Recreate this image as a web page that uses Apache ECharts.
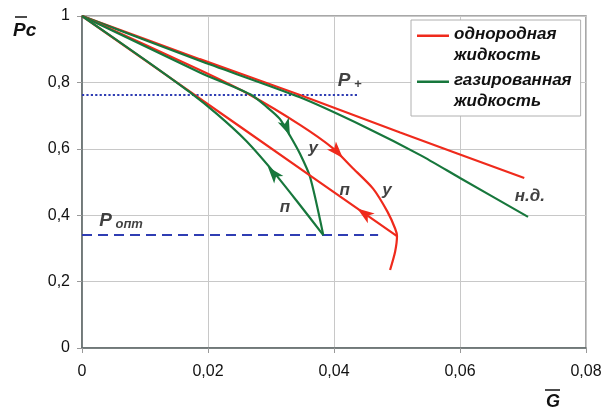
<!DOCTYPE html>
<html><head><meta charset="utf-8">
<script src="https://cdn.jsdelivr.net/npm/echarts@6/dist/echarts.min.js"></script>
<style>html,body{margin:0;padding:0;background:#fff}#c{width:612px;height:412px}</style>
</head><body><div id="c"></div>
<script>
// ---- data ----
const xTickLabels = ['0', '0,02', '0,04', '0,06', '0,08'];
const yTickLabels = ['0', '0,2', '0,4', '0,6', '0,8', '1'];
const redName = 'однородная\nжидкость';
const greenName = 'газированная\nжидкость';
// н.д. curves
const redND = [[0,1],[0.0187,0.870],[0.0346,0.762],[0.0505,0.649],[0.0702,0.512]];
const greenND = [[0,1],[0.0187,0.865],[0.0346,0.755],[0.0450,0.665],[0.0537,0.581],[0.0600,0.512],[0.0708,0.395]];
// у curves
const redU = [[0,1],[0.0187,0.837],[0.0267,0.762],[0.0346,0.672],[0.0398,0.602],[0.0428,0.545],[0.0462,0.480],[0.0485,0.410],[0.0497,0.360],[0.0500,0.337],[0.0497,0.290],[0.0489,0.235]];
const greenU = [[0,1],[0.0187,0.830],[0.0267,0.764],[0.0294,0.725],[0.0314,0.690],[0.0330,0.640],[0.0346,0.585],[0.0362,0.515],[0.0383,0.340]];
// п curves
const redP = [[0,1],[0.0250,0.668],[0.0500,0.337]];
const greenP = [[0,1],[0.0100,0.868],[0.0170,0.772],[0.0214,0.705],[0.0260,0.625],[0.0302,0.535],[0.0340,0.445],[0.0383,0.340]];
// reference levels
const pPlus = [[0,0.762],[0.0438,0.762]];
const pOpt = [[0,0.340],[0.0470,0.340]];
// arrow heads on the curves: tip position and direction (deg, counter-clockwise from up)
const redArrows = [[0.0414,0.572],[0.0437,0.420]];
const redArrowDir = [-138, 55];
const greenArrows = [[0.0330,0.640],[0.0295,0.546]];
const greenArrowDir = [-157, 40];
// text annotations
const notes = [
  {name:'pplus', value:[0.0425,0.806]},
  {name:'popt', value:[0.0062,0.384]},
  {name:'н.д.', value:[0.0711,0.458]},
  {name:'у', value:[0.0367,0.602]},
  {name:'у', value:[0.0484,0.476]},
  {name:'п', value:[0.0417,0.476]},
  {name:'п', value:[0.0322,0.425]}
];

const RED = '#ef2a1c', GREEN = '#17773c', BLUE = '#2f3db3';
const FONT = '"Liberation Sans", Arial, sans-serif';
const chart = echarts.init(document.getElementById('c'), null, {renderer:'canvas'});
function lineSeries(name, data, color) {
  return {name, type:'line', data, color, smooth:0.25, showSymbol:false, symbol:'none',
    lineStyle:{color, width:2.2}, z:3, animation:false, silent:true};
}
function arrowSeries(name, pts, dirs, color) {
  return {name, type:'scatter', symbol:'arrow', symbolSize:[9,17], color, z:4,
    data: pts.map((p,i)=>({value:p, symbolRotate:dirs[i]})),
    itemStyle:{color, opacity:1}, animation:false, silent:true};
}
const option = {
  animation:false,
  grid:{left:82, right:26, top:16, bottom:64, show:true, borderColor:'#8c8c8c', borderWidth:1.5},
  legend:{
    left:411, top:20, orient:'vertical', padding:[4,9,4,6], itemGap:4,
    backgroundColor:'#fff', borderColor:'#b0b0b0', borderWidth:1,
    icon:'path://M0,0H32V2.4H0ZM0,21H0.01V21.01H0Z', itemWidth:32, itemHeight:21,
    data:[redName, greenName],
    textStyle:{fontFamily:FONT, fontSize:17, fontWeight:'bold', fontStyle:'italic', color:'#111', lineHeight:21}
  },
  xAxis:{type:'value', min:0, max:0.08, interval:0.02,
    axisLine:{show:true, lineStyle:{color:'#5f6a6a', width:1.5}},
    axisTick:{show:true, length:5, lineStyle:{color:'#999'}},
    splitLine:{show:true, lineStyle:{color:'#c8c8c8', width:1}},
    axisLabel:{margin:16, fontFamily:FONT, fontSize:16, color:'#111',
      formatter:v=>xTickLabels[Math.round(v/0.02)]}
  },
  yAxis:{type:'value', min:0, max:1, interval:0.2,
    axisLine:{show:true, lineStyle:{color:'#5f6a6a', width:1.5}},
    axisTick:{show:true, length:5, lineStyle:{color:'#999'}},
    splitLine:{show:true, lineStyle:{color:'#c8c8c8', width:1}},
    axisLabel:{margin:12, fontFamily:FONT, fontSize:16, color:'#111',
      formatter:v=>yTickLabels[Math.round(v/0.2)]}
  },
  series:[
    {type:'line', data:pPlus, showSymbol:false, symbol:'none', lineStyle:{color:BLUE, width:2.2, type:[2.2,2.2]}, z:2, silent:true},
    {type:'line', data:pOpt, showSymbol:false, symbol:'none', lineStyle:{color:BLUE, width:2, type:[10,6]}, z:2, silent:true},
    lineSeries(redName, redND, RED),
    lineSeries(greenName, greenND, GREEN),
    lineSeries(redName, redU, RED),
    lineSeries(greenName, greenU, GREEN),
    lineSeries(redName, redP, RED),
    lineSeries(greenName, greenP, GREEN),
    arrowSeries(redName, redArrows, redArrowDir, RED),
    arrowSeries(greenName, greenArrows, greenArrowDir, GREEN),
    {type:'scatter', data:notes, symbolSize:1, itemStyle:{color:'rgba(0,0,0,0)'}, z:5, silent:true,
      label:{show:true, position:'inside', fontFamily:FONT, fontSize:17, fontWeight:'bold', fontStyle:'italic', color:'#111',
        formatter:p=>{
          if (p.name==='pplus') return '{p|P}{s| +}';
          if (p.name==='popt') return '{p|P}{s| опт}';
          return p.name;
        },
        rich:{
          p:{fontFamily:FONT, fontSize:19, fontWeight:'bold', fontStyle:'italic', color:'#111'},
          s:{fontFamily:FONT, fontSize:13, fontWeight:'bold', fontStyle:'italic', color:'#111', padding:[8,0,0,0]}
        }
      }
    }
  ],
  graphic:[
    {type:'text', left:13, top:21, style:{text:'Pc', font:'italic bold 19px '+FONT, fill:'#111'}},
    {type:'line', shape:{x1:15, y1:17, x2:27, y2:17}, style:{stroke:'#111', lineWidth:1.5}},
    {type:'text', left:546, top:393, style:{text:'G', font:'italic bold 18px '+FONT, fill:'#111'}},
    {type:'line', shape:{x1:545, y1:390, x2:560, y2:390}, style:{stroke:'#111', lineWidth:1.5}}
  ]
};
chart.setOption(option);
</script></body></html>
